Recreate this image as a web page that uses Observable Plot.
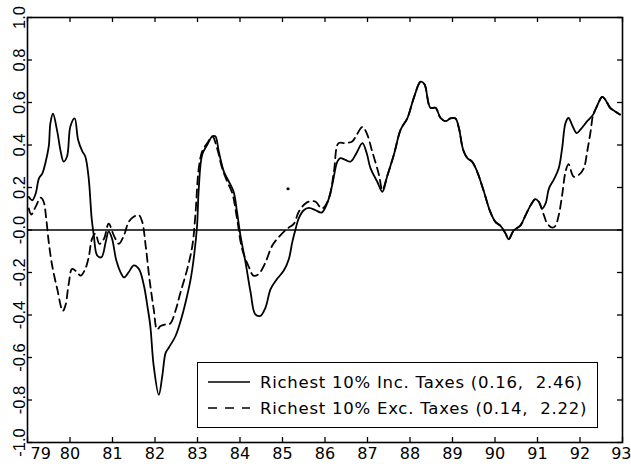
<!DOCTYPE html>
<html>
<head>
<meta charset="utf-8">
<script src="https://cdn.jsdelivr.net/npm/d3@7"></script>
<script src="https://cdn.jsdelivr.net/npm/@observablehq/plot@0.6"></script>
<style>
  html, body { margin: 0; padding: 0; background: #fff; }
  #wrap { position: relative; width: 631px; height: 466px; overflow: hidden; }
  #legend {
    position: absolute; left: 197px; top: 362px; width: 399px; height: 64px;
    border: 1.5px solid #000; background: #fff;
    font-family: "DejaVu Sans", sans-serif; font-size: 16.5px; letter-spacing: 0.75px; color: #000;
  }
  #legend .row { position: absolute; left: 0; height: 20px; display: flex; align-items: center; white-space: pre; }
  #legend svg { margin-left: 10px; margin-right: 10px; }
</style>
</head>
<body>
<div id="wrap"><div id="legend"></div></div>
<script>
// ---- data ----
const xTicks = [79, 80, 81, 82, 83, 84, 85, 86, 87, 88, 89, 90, 91, 92, 93];
const yTicks = [-1.0, -0.8, -0.6, -0.4, -0.2, 0.0, 0.2, 0.4, 0.6, 0.8, 1.0];
const yTickLabels = ["-1.0", "-0.8", "-0.6", "-0.4", "-0.2", "-0.0", "0.2", "0.4", "0.6", "0.8", "1.0"];

const seriesNames = [
  "Richest 10% Inc. Taxes (0.16,  2.46)",
  "Richest 10% Exc. Taxes (0.14,  2.22)"
];

// Richest 10% Inc. Taxes (solid)
const incYears = [79.03,79.11,79.19,79.27,79.35,79.42,79.50,79.54,79.60,79.70,79.78,79.85,79.93,80.01,80.11,80.19,80.29,80.36,80.44,80.51,80.56,80.64,80.74,80.84,80.91,80.99,81.09,81.19,81.27,81.38,81.50,81.62,81.74,81.82,81.89,81.97,82.09,82.17,82.25,82.32,82.48,82.60,82.72,82.84,82.92,82.99,83.03,83.11,83.23,83.35,83.42,83.50,83.62,83.74,83.85,83.93,84.01,84.13,84.25,84.36,84.48,84.60,84.72,84.87,85.03,85.15,85.23,85.31,85.38,85.50,85.62,85.78,85.92,86.05,86.17,86.29,86.36,86.48,86.60,86.72,86.88,86.98,87.07,87.23,87.35,87.46,87.62,87.78,87.94,88.09,88.25,88.34,88.48,88.60,88.72,88.84,88.95,89.07,89.15,89.25,89.35,89.46,89.58,89.74,89.89,90.01,90.13,90.25,90.32,90.44,90.60,90.72,90.84,90.95,91.03,91.11,91.19,91.27,91.38,91.50,91.58,91.66,91.73,91.81,91.92,92.01,92.17,92.31,92.40,92.52,92.59,92.71,92.82,92.94];
const incValues = [0.156,0.14,0.17,0.243,0.267,0.314,0.393,0.504,0.547,0.464,0.37,0.322,0.346,0.488,0.525,0.425,0.37,0.346,0.243,0.054,-0.025,-0.12,-0.128,-0.057,-0.006,-0.041,-0.144,-0.199,-0.223,-0.199,-0.167,-0.183,-0.262,-0.357,-0.452,-0.641,-0.776,-0.689,-0.578,-0.555,-0.50,-0.43,-0.34,-0.23,-0.12,0.02,0.196,0.354,0.401,0.441,0.441,0.37,0.275,0.227,0.18,0.085,-0.025,-0.152,-0.294,-0.397,-0.404,-0.365,-0.278,-0.231,-0.191,-0.136,-0.057,0.006,0.054,0.093,0.104,0.093,0.082,0.125,0.212,0.322,0.338,0.330,0.322,0.354,0.409,0.362,0.291,0.227,0.18,0.251,0.354,0.472,0.527,0.622,0.698,0.686,0.575,0.575,0.527,0.512,0.525,0.525,0.48,0.378,0.338,0.322,0.275,0.18,0.085,0.038,0.019,-0.017,-0.044,-0.002,0.022,0.07,0.117,0.145,0.133,0.101,0.125,0.196,0.236,0.291,0.385,0.504,0.527,0.496,0.456,0.472,0.512,0.543,0.583,0.626,0.615,0.575,0.559,0.543];

// Richest 10% Exc. Taxes (dashed)
const excYears = [79.03,79.09,79.19,79.31,79.38,79.44,79.50,79.58,79.70,79.83,79.89,79.97,80.05,80.17,80.25,80.36,80.44,80.52,80.60,80.69,80.80,80.91,81.03,81.15,81.27,81.38,81.50,81.62,81.70,81.78,81.87,81.97,82.05,82.13,82.25,82.36,82.48,82.60,82.76,82.88,82.95,83.03,83.11,83.23,83.35,83.46,83.58,83.70,83.82,83.93,84.05,84.21,84.32,84.44,84.60,84.76,84.95,85.11,85.27,85.38,85.54,85.66,85.78,85.93,86.09,86.21,86.32,86.48,86.64,86.75,86.88,86.98,87.11,87.27,87.35,87.46,87.62,87.78,87.94,88.09,88.25,88.34,88.48,88.60,88.72,88.84,88.95,89.07,89.15,89.25,89.35,89.46,89.58,89.74,89.89,90.01,90.13,90.25,90.32,90.44,90.60,90.72,90.84,90.95,91.03,91.15,91.23,91.35,91.42,91.50,91.58,91.66,91.73,91.85,91.97,92.09,92.17,92.25,92.31,92.40,92.52,92.59,92.71,92.82,92.94];
const excValues = [0.101,0.073,0.109,0.152,0.133,0.054,-0.057,-0.167,-0.278,-0.381,-0.357,-0.254,-0.183,-0.199,-0.215,-0.183,-0.128,-0.041,-0.017,-0.065,-0.041,0.03,-0.025,-0.065,-0.025,0.038,0.062,0.07,0.038,-0.073,-0.231,-0.373,-0.468,-0.452,-0.444,-0.44,-0.381,-0.294,-0.183,-0.073,0.07,0.291,0.37,0.409,0.441,0.385,0.291,0.227,0.172,0.054,-0.089,-0.175,-0.215,-0.207,-0.152,-0.073,-0.025,0.006,0.03,0.085,0.125,0.136,0.133,0.101,0.148,0.275,0.409,0.409,0.417,0.449,0.485,0.456,0.37,0.259,0.188,0.251,0.354,0.472,0.527,0.622,0.698,0.686,0.575,0.575,0.527,0.512,0.525,0.525,0.48,0.378,0.338,0.322,0.275,0.18,0.085,0.038,0.019,-0.017,-0.044,-0.002,0.022,0.07,0.117,0.145,0.133,0.07,0.03,0.011,0.019,0.07,0.164,0.275,0.31,0.251,0.259,0.291,0.37,0.464,0.543,0.583,0.626,0.615,0.575,0.559,0.543];

// a stray speck printed in the original figure
const speckYears = [85.13];
const speckValues = [0.194];

// ---- build tables ----
const inc = incYears.map((t, i) => ({t, v: incValues[i]}));
const exc = excYears.map((t, i) => ({t, v: excValues[i]}));
const speck = speckYears.map((t, i) => ({t, v: speckValues[i]}));
const yLabel = new Map(yTicks.map((d, i) => [d, yTickLabels[i]]));

const W = 631, H = 466, mL = 27, mR = 9, mT = 17, mB = 24;
const plotW = W - mL - mR, plotH = H - mT - mB, tickLen = 5;
const tickStyle = {stroke: "#000", strokeWidth: 1.3};
const labelFont = {fontSize: 16, fontFamily: "DejaVu Sans"};

const chart = Plot.plot({
  width: W,
  height: H,
  marginLeft: mL,
  marginRight: mR,
  marginTop: mT,
  marginBottom: mB,
  x: {domain: [79, 93], label: null},
  y: {domain: [-1, 1], label: null},
  style: {fontFamily: "DejaVu Sans, sans-serif", fontSize: "16px", color: "#000", background: "#fff", overflow: "visible"},
  marks: [
    Plot.ruleY([0], {stroke: "#000", strokeWidth: 1.5}),
    Plot.line(inc, {x: "t", y: "v", stroke: "#000", strokeWidth: 1.8, curve: "catmull-rom"}),
    Plot.line(exc, {x: "t", y: "v", stroke: "#000", strokeWidth: 1.8, strokeDasharray: "8,5", curve: "catmull-rom"}),
    Plot.dot(speck, {x: "t", y: "v", r: 1.6, fill: "#000", stroke: null}),
    Plot.frame({stroke: "#000", strokeWidth: 1.6}),
    // inward ticks on all four sides
    Plot.tickX(xTicks, {x: d => d, insetTop: plotH - tickLen, ...tickStyle}),
    Plot.tickX(xTicks, {x: d => d, insetBottom: plotH - tickLen, ...tickStyle}),
    Plot.tickY(yTicks, {y: d => d, insetRight: plotW - tickLen, ...tickStyle}),
    Plot.tickY(yTicks, {y: d => d, insetLeft: plotW - tickLen, ...tickStyle}),
    // x tick labels (end labels pulled inside the figure, as in the original)
    Plot.axisX(xTicks.slice(1, -1), {anchor: "bottom", tickSize: 0, tickPadding: 5, ...labelFont}),
    Plot.axisX(xTicks.slice(0, 1), {anchor: "bottom", tickSize: 0, tickPadding: 5, textAnchor: "start", dx: 3, ...labelFont}),
    Plot.axisX(xTicks.slice(-1), {anchor: "bottom", tickSize: 0, tickPadding: 5, textAnchor: "end", dx: 9, ...labelFont}),
    // y tick labels, rotated
    Plot.axisY(yTicks, {anchor: "left", tickSize: 0, tickPadding: 3, tickRotate: -90, tickFormat: d => yLabel.get(d), fontSize: 16.5, fontFamily: "Liberation Sans"})
  ]
});
document.getElementById("wrap").prepend(chart);

// ---- legend (inside the plot area, as in the original) ----
const legend = document.getElementById("legend");
const dashes = [null, "9,8"];
seriesNames.forEach((name, i) => {
  const row = document.createElement("div");
  row.className = "row";
  row.style.top = (i === 0 ? 9 : 35) + "px";
  const ns = "http://www.w3.org/2000/svg";
  const s = document.createElementNS(ns, "svg");
  s.setAttribute("width", 42); s.setAttribute("height", 20);
  const ln = document.createElementNS(ns, "line");
  ln.setAttribute("x1", 0); ln.setAttribute("x2", 42);
  ln.setAttribute("y1", 10); ln.setAttribute("y2", 10);
  ln.setAttribute("stroke", "#000"); ln.setAttribute("stroke-width", 1.7);
  if (dashes[i]) ln.setAttribute("stroke-dasharray", dashes[i]);
  s.appendChild(ln);
  row.appendChild(s);
  const tx = document.createElement("span");
  tx.textContent = name;
  row.appendChild(tx);
  legend.appendChild(row);
});
</script>
</body>
</html>
